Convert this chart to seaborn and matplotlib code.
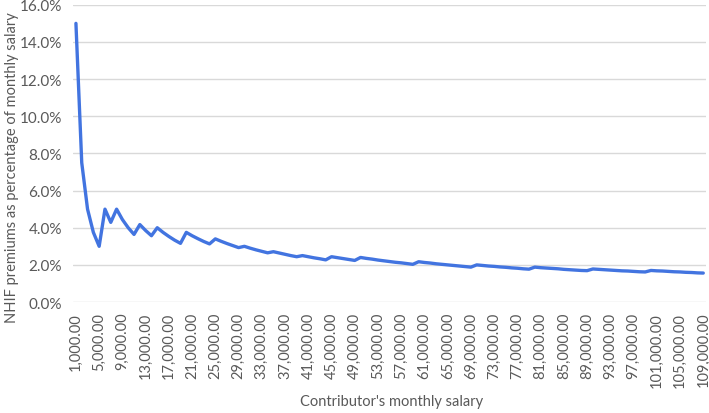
import matplotlib
matplotlib.use("Agg")
import matplotlib.pyplot as plt
import seaborn as sns
import pandas as pd
from matplotlib.ticker import FuncFormatter

# Contributor's monthly salary (KSh), one category per 1,000
salary = list(range(1000, 110000, 1000))

# NHIF premium as % of monthly salary
premium_pct = [
    15.00, 7.50, 5.00, 3.75, 3.00, 5.00, 4.29, 5.00, 4.44, 4.00,
    3.64, 4.17, 3.85, 3.57, 4.00, 3.75, 3.53, 3.33, 3.16, 3.75,
    3.57, 3.41, 3.26, 3.13, 3.40, 3.27, 3.15, 3.04, 2.93, 3.00,
    2.90, 2.81, 2.73, 2.65, 2.71, 2.64, 2.57, 2.50, 2.44, 2.50,
    2.44, 2.38, 2.33, 2.27, 2.44, 2.39, 2.34, 2.29, 2.24, 2.40,
    2.35, 2.31, 2.26, 2.22, 2.18, 2.14, 2.11, 2.07, 2.03, 2.17,
    2.13, 2.10, 2.06, 2.03, 2.00, 1.97, 1.94, 1.91, 1.88, 2.00,
    1.97, 1.94, 1.92, 1.89, 1.87, 1.84, 1.82, 1.79, 1.77, 1.88,
    1.85, 1.83, 1.81, 1.79, 1.76, 1.74, 1.72, 1.70, 1.69, 1.78,
    1.76, 1.74, 1.72, 1.70, 1.68, 1.67, 1.65, 1.63, 1.62, 1.70,
    1.68, 1.67, 1.65, 1.63, 1.62, 1.60, 1.59, 1.57, 1.56,
]

x_tick_values = salary[::4]
x_tick_labels = [f"{v:,.2f}" for v in x_tick_values]
y_ticks = [0, 2, 4, 6, 8, 10, 12, 14, 16]

df = pd.DataFrame({"salary": salary, "pct": premium_pct})

sns.set_theme(style="white")
plt.rcParams["font.family"] = ["Lato", "DejaVu Sans"]
text_color = "#595959"

fig = plt.figure(figsize=(7.09, 4.14), dpi=100)
ax = fig.add_axes([0.103, 0.268, 0.893, 0.718])

sns.lineplot(data=df, x="salary", y="pct", ax=ax, color="#4274E0",
             linewidth=2.4, solid_joinstyle="round")

ax.set_xlim(500, 109500)
ax.set_ylim(0, 16)
ax.set_yticks(y_ticks)
ax.yaxis.set_major_formatter(FuncFormatter(lambda v, p: f"{v:.1f}%"))
ax.set_xticks(x_tick_values)
ax.set_xticklabels(x_tick_labels, rotation=90)

ax.grid(axis="y", color="#d9d9d9", linewidth=1.0)
ax.set_axisbelow(True)
for s in ax.spines.values():
    s.set_visible(False)
ax.tick_params(axis="both", length=0, colors=text_color, labelsize=10.5)
ax.tick_params(axis="x", labelsize=10.5, pad=7)
ax.tick_params(axis="y", labelsize=11, pad=8)

ax.set_xlabel("")
ax.set_ylabel("")
fig.text(0.552, 1 - 402 / 414, "Contributor's monthly salary", color=text_color,
         fontsize=10.5, ha="center", va="center")
fig.text(12 / 709, 1 - 168 / 414, "NHIF premiums as percentage of monthly salary",
         color=text_color, fontsize=10.5, ha="center", va="center", rotation=90)

fig.savefig("out.png", dpi=100)
